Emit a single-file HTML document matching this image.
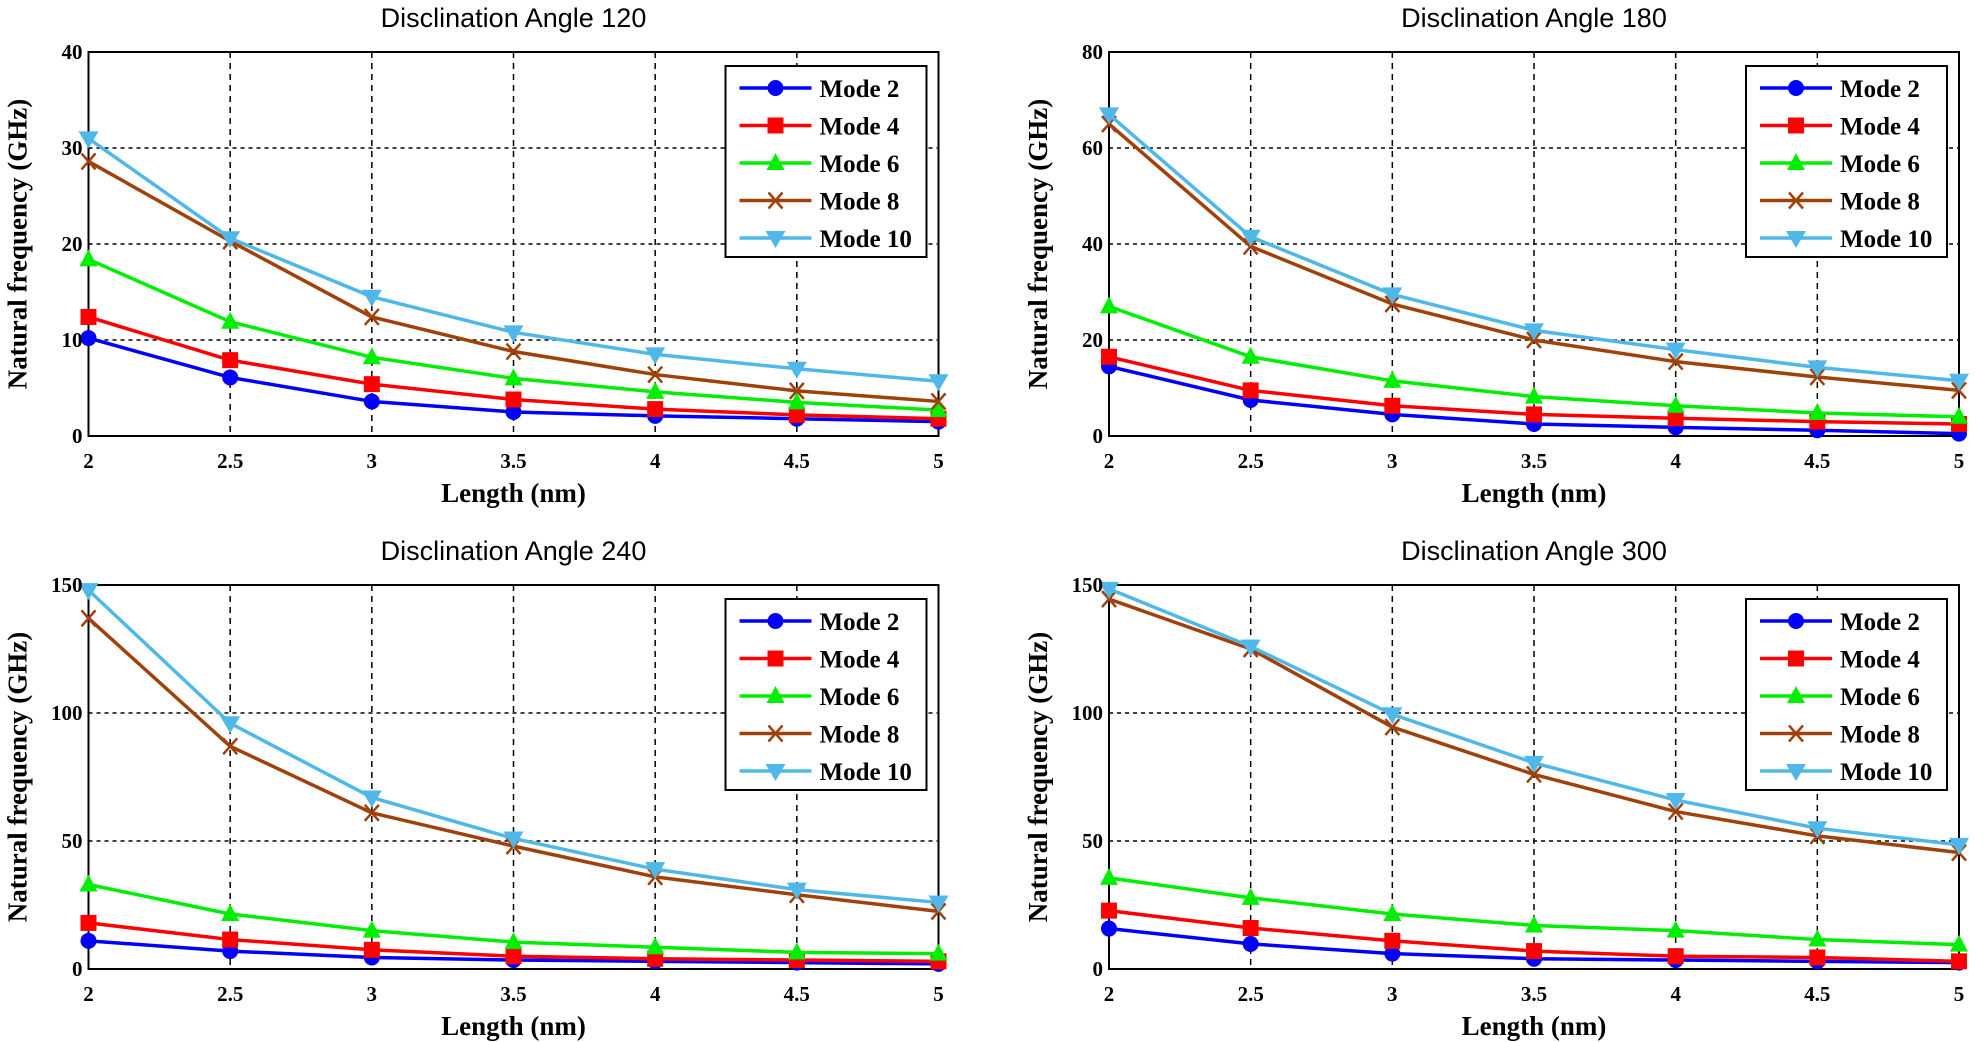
<!DOCTYPE html>
<html><head><meta charset="utf-8"><style>
html,body{margin:0;padding:0;background:#fff;}
svg{display:block;}
.t{font-family:"Liberation Sans",sans-serif;font-size:27px;fill:#000;}
.k{font-family:"Liberation Serif",serif;font-weight:bold;font-size:21px;fill:#000;}
.lg{font-family:"Liberation Serif",serif;font-weight:bold;font-size:25px;fill:#000;}
.al{font-family:"Liberation Serif",serif;font-weight:bold;font-size:27px;fill:#000;}
</style></head><body>
<svg id="s" width="1984" height="1042" viewBox="0 0 1984 1042" xmlns="http://www.w3.org/2000/svg">
<rect width="1984" height="1042" fill="#fff"/>
<g id="p0" transform="translate(88.5,52)">
<text class="t" x="425" y="-25" text-anchor="middle">Disclination Angle 120</text>
<g class="k" text-anchor="end"><text x="-6" y="391">0</text><text x="-6" y="295">10</text><text x="-6" y="199">20</text><text x="-6" y="103">30</text><text x="-6" y="7">40</text></g>
<g class="k" text-anchor="middle"><text x="0" y="416">2</text><text x="141.7" y="416">2.5</text><text x="283.3" y="416">3</text><text x="425" y="416">3.5</text><text x="566.7" y="416">4</text><text x="708.3" y="416">4.5</text><text x="850" y="416">5</text></g>
<text class="al" x="425" y="450" text-anchor="middle">Length (nm)</text>
<text class="al" transform="translate(-62,192) rotate(-90)" text-anchor="middle">Natural frequency (GHz)</text>
</g>
<g id="p1" transform="translate(1109,52)">
<text class="t" x="425" y="-25" text-anchor="middle">Disclination Angle 180</text>
<g class="k" text-anchor="end"><text x="-6" y="391">0</text><text x="-6" y="295">20</text><text x="-6" y="199">40</text><text x="-6" y="103">60</text><text x="-6" y="7">80</text></g>
<g class="k" text-anchor="middle"><text x="0" y="416">2</text><text x="141.7" y="416">2.5</text><text x="283.3" y="416">3</text><text x="425" y="416">3.5</text><text x="566.7" y="416">4</text><text x="708.3" y="416">4.5</text><text x="850" y="416">5</text></g>
<text class="al" x="425" y="450" text-anchor="middle">Length (nm)</text>
<text class="al" transform="translate(-62,192) rotate(-90)" text-anchor="middle">Natural frequency (GHz)</text>
</g>
<g id="p2" transform="translate(88.5,585)">
<text class="t" x="425" y="-25" text-anchor="middle">Disclination Angle 240</text>
<g class="k" text-anchor="end"><text x="-6" y="391">0</text><text x="-6" y="263">50</text><text x="-6" y="135">100</text><text x="-6" y="7">150</text></g>
<g class="k" text-anchor="middle"><text x="0" y="416">2</text><text x="141.7" y="416">2.5</text><text x="283.3" y="416">3</text><text x="425" y="416">3.5</text><text x="566.7" y="416">4</text><text x="708.3" y="416">4.5</text><text x="850" y="416">5</text></g>
<text class="al" x="425" y="450" text-anchor="middle">Length (nm)</text>
<text class="al" transform="translate(-62,192) rotate(-90)" text-anchor="middle">Natural frequency (GHz)</text>
</g>
<g id="p3" transform="translate(1109,585)">
<text class="t" x="425" y="-25" text-anchor="middle">Disclination Angle 300</text>
<g class="k" text-anchor="end"><text x="-6" y="391">0</text><text x="-6" y="263">50</text><text x="-6" y="135">100</text><text x="-6" y="7">150</text></g>
<g class="k" text-anchor="middle"><text x="0" y="416">2</text><text x="141.7" y="416">2.5</text><text x="283.3" y="416">3</text><text x="425" y="416">3.5</text><text x="566.7" y="416">4</text><text x="708.3" y="416">4.5</text><text x="850" y="416">5</text></g>
<text class="al" x="425" y="450" text-anchor="middle">Length (nm)</text>
<text class="al" transform="translate(-62,192) rotate(-90)" text-anchor="middle">Natural frequency (GHz)</text>
</g>
</svg>
<script>
(function(){
var NS="http://www.w3.org/2000/svg",W=850,H=384;
var cols=["#0000ff","#ff0000","#00ee00","#a0410a","#4fb8e8"];
var panels=[
 {max:40,nt:4,d:[[10.2,6.1,3.6,2.5,2.1,1.8,1.5],[12.4,7.9,5.4,3.8,2.8,2.2,1.8],[18.4,11.9,8.2,6.0,4.6,3.5,2.7],[28.6,20.3,12.4,8.8,6.4,4.7,3.6],[31,20.6,14.5,10.8,8.5,7.0,5.7]]},
 {max:80,nt:4,d:[[14.5,7.5,4.5,2.5,1.8,1.2,0.5],[16.5,9.5,6.3,4.5,3.7,3,2.5],[27,16.5,11.5,8.2,6.3,4.8,4],[65,39.5,27.5,20,15.5,12.3,9.5],[67,41.5,29.5,22,18,14.3,11.5]]},
 {max:150,nt:3,d:[[11,7,4.5,3.5,3,2.5,2],[18,11.5,7.5,5,4,3.5,3],[33,21.5,15,10.5,8.5,6.5,6],[137,87,61,48,36,29,22.5],[148,96,67,51,39,31,26]]},
 {max:150,nt:3,d:[[15.8,9.8,6,4,3.5,3,2.5],[22.8,16,11,7,5,4.5,3],[35.6,27.8,21.5,17,15,11.5,9.5],[144.5,125,94.5,76,61.5,52,45.5],[148.5,126,99.5,80.5,66,55,48.5]]}
];
function el(t,a,p){var e=document.createElementNS(NS,t);for(var k in a)e.setAttribute(k,a[k]);p.appendChild(e);return e;}
function mk(g,i,x,y,c){
 if(i==0)el("circle",{cx:x,cy:y,r:8,fill:c},g);
 else if(i==1)el("rect",{x:x-8,y:y-8,width:16,height:16,fill:c},g);
 else if(i==2)el("polygon",{points:(x)+","+(y-10)+" "+(x-9)+","+(y+7)+" "+(x+9)+","+(y+7),fill:c},g);
 else if(i==3)el("path",{d:"M"+(x-7)+","+(y-8)+"L"+(x+7)+","+(y+8)+"M"+(x+7)+","+(y-8)+"L"+(x-7)+","+(y+8),stroke:c,"stroke-width":2.5,fill:"none"},g);
 else el("polygon",{points:(x)+","+(y+10)+" "+(x-10)+","+(y-7)+" "+(x+10)+","+(y-7),fill:c},g);
}
panels.forEach(function(P,pi){
 var g=document.getElementById("p"+pi);
 var first=g.firstChild;
 var b=document.createElementNS(NS,"g");g.insertBefore(b,first);
 el("rect",{x:0,y:0,width:W,height:H,fill:"#fff"},b);
 for(var i=1;i<6;i++)el("line",{x1:i*W/6,y1:0,x2:i*W/6,y2:H,stroke:"#000","stroke-width":1.5,"stroke-dasharray":"6,5"},b);
 for(var j=1;j<P.nt;j++){var y=H-j*H/P.nt;el("line",{x1:0,y1:y,x2:W,y2:y,stroke:"#000","stroke-width":1.5,"stroke-dasharray":"4,4"},b);}
 el("rect",{x:0,y:0,width:W,height:H,fill:"none",stroke:"#000","stroke-width":2},b);
 P.d.forEach(function(s,si){
  var pts=s.map(function(v,k){return [k*W/6,H-v/P.max*H];});
  el("polyline",{points:pts.map(function(p){return p.join(",")}).join(" "),fill:"none",stroke:cols[si],"stroke-width":3.5},b);
  pts.forEach(function(p){mk(b,si,p[0],p[1],cols[si]);});
 });
 var lg=el("g",{},g);
 el("rect",{x:637,y:14,width:201,height:191,fill:"#fff",stroke:"#000","stroke-width":2},lg);
 for(var si=0;si<5;si++){var y=36+si*37.5;
  el("line",{x1:651,y1:y,x2:723,y2:y,stroke:cols[si],"stroke-width":3.5},lg);
  mk(lg,si,687,y,cols[si]);
 }
});
})();
</script>
<div style="position:absolute;left:0;top:0;width:1984px;height:1042px;pointer-events:none;">
<svg width="1984" height="1042" style="position:absolute;left:0;top:0">
<g class="lg" transform="translate(88.5,52)"><text x="731" y="45">Mode 2</text><text x="731" y="82.5">Mode 4</text><text x="731" y="120">Mode 6</text><text x="731" y="157.5">Mode 8</text><text x="731" y="195">Mode 10</text></g>
<g class="lg" transform="translate(1109,52)"><text x="731" y="45">Mode 2</text><text x="731" y="82.5">Mode 4</text><text x="731" y="120">Mode 6</text><text x="731" y="157.5">Mode 8</text><text x="731" y="195">Mode 10</text></g>
<g class="lg" transform="translate(88.5,585)"><text x="731" y="45">Mode 2</text><text x="731" y="82.5">Mode 4</text><text x="731" y="120">Mode 6</text><text x="731" y="157.5">Mode 8</text><text x="731" y="195">Mode 10</text></g>
<g class="lg" transform="translate(1109,585)"><text x="731" y="45">Mode 2</text><text x="731" y="82.5">Mode 4</text><text x="731" y="120">Mode 6</text><text x="731" y="157.5">Mode 8</text><text x="731" y="195">Mode 10</text></g>
</svg></div>
</body></html>
